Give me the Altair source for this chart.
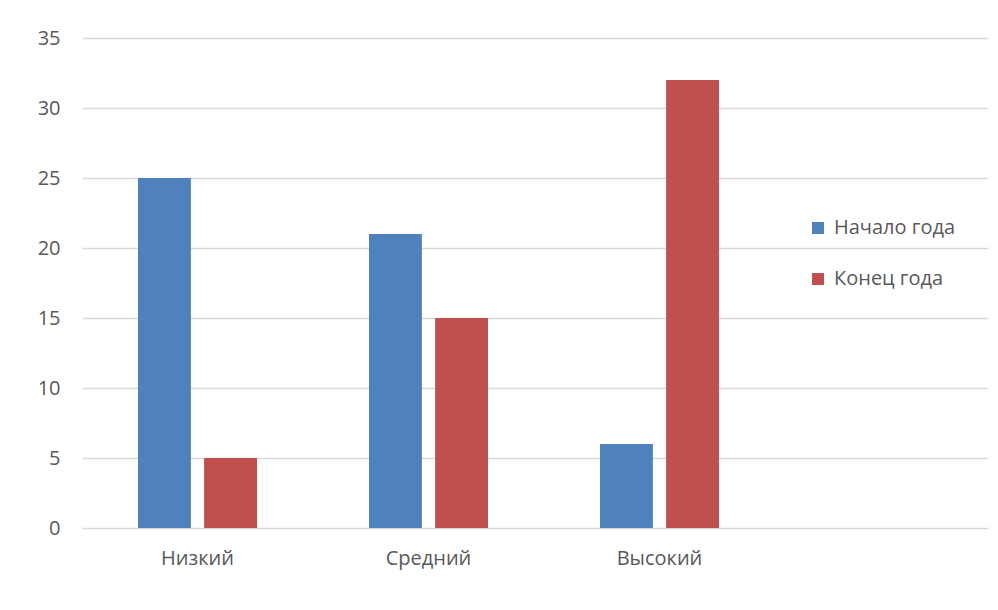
import altair as alt
import pandas as pd

categories = ["Низкий", "Средний", "Высокий"]
series_names = ["Начало года", "Конец года"]
start_values = [25, 21, 6]
end_values = [5, 15, 32]
colors = ["#4F81BD", "#C0504D"]

rows = []
for c, s, e in zip(categories, start_values, end_values):
    rows.append({"cat": c, "series": series_names[0], "value": s})
    rows.append({"cat": c, "series": series_names[1], "value": e})
df = pd.DataFrame(rows)

FONT = "Open Sans"
FS = 20

chart = alt.Chart(df).mark_bar().encode(
    x=alt.X("cat:N", sort=categories,
            scale=alt.Scale(domain=categories, paddingInner=0.48485,
                            paddingOuter=0.70346, align=0.1723),
            axis=alt.Axis(title=None, labelAngle=0, ticks=False, domain=False,
                          labelPadding=20, labelFontSize=FS, labelColor="#595959",
                          labelFont=FONT)),
    xOffset=alt.XOffset("series:N", sort=series_names,
                        scale=alt.Scale(domain=series_names, paddingInner=0.2, paddingOuter=0)),
    y=alt.Y("value:Q",
            scale=alt.Scale(domain=[0, 35], nice=False),
            axis=alt.Axis(title=None, values=[0, 5, 10, 15, 20, 25, 30, 35],
                          ticks=False, domain=False, labelPadding=22,
                          labelFontSize=FS, labelColor="#595959", labelFont=FONT,
                          gridColor="#D9D9D9", gridWidth=1.3)),
    color=alt.Color("series:N", sort=series_names,
                    scale=alt.Scale(domain=series_names, range=colors),
                    legend=alt.Legend(title=None, orient="none", legendX=726, legendY=180,
                                      symbolType="square", symbolSize=144,
                                      symbolStrokeWidth=0, labelFontSize=FS,
                                      labelColor="#595959", labelFont=FONT,
                                      labelOffset=6, rowPadding=31, padding=0)),
).properties(
    width=906, height=490,
    padding={"left": 74, "top": 30, "right": 2, "bottom": 60},
    autosize="none",
    background="white",
).configure_view(stroke=None)

chart.save("out.html", embed_options={"renderer": "svg", "actions": False})
